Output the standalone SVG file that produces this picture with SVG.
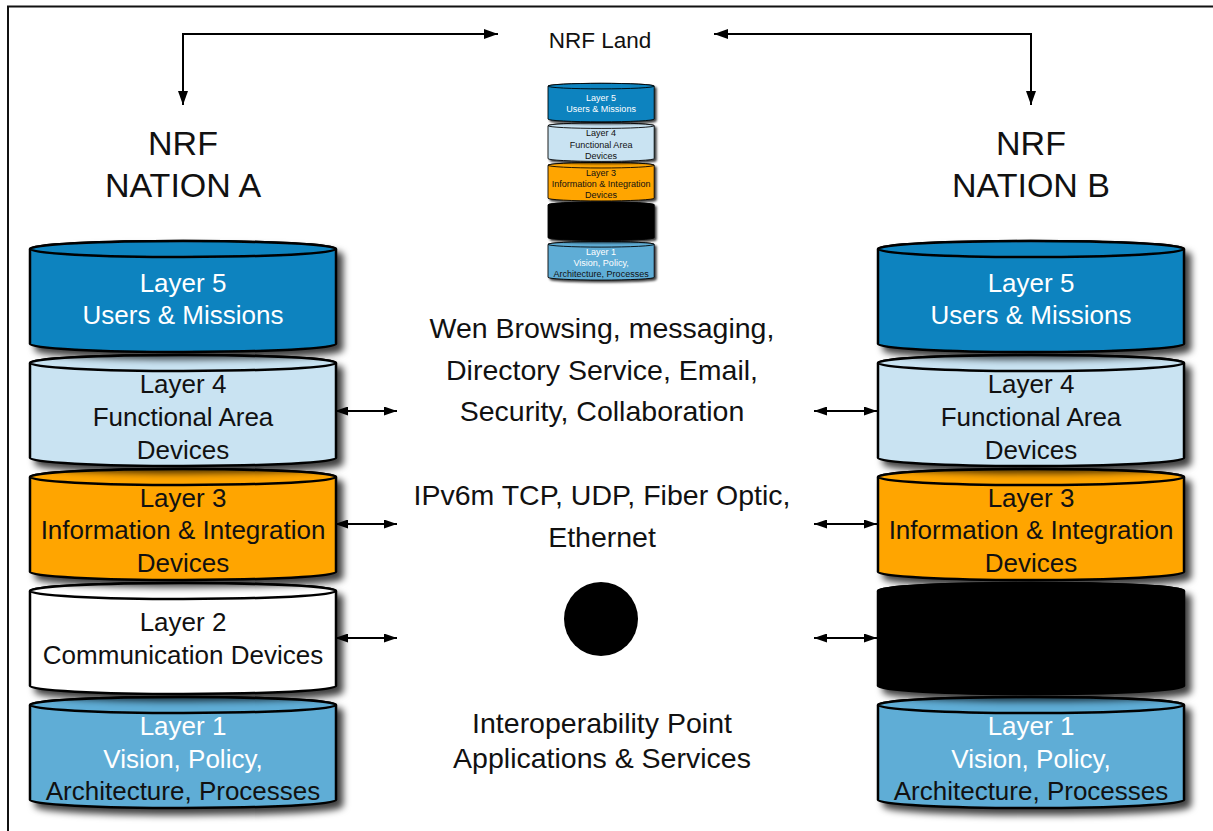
<svg xmlns="http://www.w3.org/2000/svg" width="1213" height="831" viewBox="0 0 1213 831">
  <style>
    text { font-family: "Liberation Sans", Arial, sans-serif; text-anchor: middle; }
    .lt { font-size: 26px; }
    .mid { font-size: 28.5px; fill: #111; }
    .hdr { font-size: 34px; fill: #111; }
    .wht { fill: #ffffff; }
    .blk { fill: #111111; }
    .cyl { stroke: #000; stroke-width: 2.5; }
    .l5 { fill: #0b83bf; }
    .l4 { fill: #c9e3f2; }
    .l3 { fill: #ffa500; }
    .l2 { fill: #ffffff; }
    .l2x { fill: #000000; }
    .l1 { fill: #5eadd6; }
    .conn { fill: none; stroke: #000; stroke-width: 2; }
  </style>
  <defs>
    <filter id="shadow" x="-10%" y="-20%" width="130%" height="160%">
      <feDropShadow dx="6" dy="6" stdDeviation="3.5" flood-color="#000" flood-opacity="0.75"/>
    </filter>
    <marker id="head" viewBox="0 0 14 10" refX="14" refY="5" markerWidth="14" markerHeight="10" markerUnits="userSpaceOnUse" orient="auto-start-reverse">
      <path d="M0,0 L14,5 L0,10 Z" fill="#000"/>
    </marker>
    <marker id="headS" viewBox="0 0 13 9" refX="13" refY="4.5" markerWidth="13" markerHeight="9" markerUnits="userSpaceOnUse" orient="auto-start-reverse">
      <path d="M0,0 L13,4.5 L0,9 Z" fill="#000"/>
    </marker>
    <!-- cylinder body 306 wide, 111 tall, local origin at top-left -->
    <path id="cylBody" d="M0,8 L0,103 A153,8 0 0 0 306,103 L306,8 A153,8 0 0 0 0,8 Z"/>
    <ellipse id="cylTop" cx="153" cy="8" rx="153" ry="8"/>
  </defs>

  <!-- frame -->
  <path d="M8,831 L8,6.5 L1213,6.5" fill="none" stroke="#111" stroke-width="2"/>

  <!-- NATION A stack -->
  <g id="nationA">
    <text class="hdr" x="183" y="155">NRF</text>
    <text class="hdr" x="183" y="197">NATION A</text>
    <g id="a-layer1" transform="translate(30,697)">
      <g filter="url(#shadow)"><use href="#cylBody" class="cyl l1"/><use href="#cylTop" class="cyl l1"/></g>
      <text class="lt wht" x="153" y="38">Layer 1</text>
      <text class="lt wht" x="153" y="71">Vision, Policy,</text>
      <text class="lt blk" x="153" y="103">Architecture, Processes</text>
    </g>
    <g id="a-layer2" transform="translate(30,583)">
      <g filter="url(#shadow)"><use href="#cylBody" class="cyl l2"/><use href="#cylTop" class="cyl l2"/></g>
      <text class="lt blk" x="153" y="48">Layer 2</text>
      <text class="lt blk" x="153" y="81">Communication Devices</text>
    </g>
    <g id="a-layer3" transform="translate(30,469)">
      <g filter="url(#shadow)"><use href="#cylBody" class="cyl l3"/><use href="#cylTop" class="cyl l3"/></g>
      <text class="lt blk" x="153" y="38">Layer 3</text>
      <text class="lt blk" x="153" y="70">Information &amp; Integration</text>
      <text class="lt blk" x="153" y="103">Devices</text>
    </g>
    <g id="a-layer4" transform="translate(30,355)">
      <g filter="url(#shadow)"><use href="#cylBody" class="cyl l4"/><use href="#cylTop" class="cyl l4"/></g>
      <text class="lt blk" x="153" y="38">Layer 4</text>
      <text class="lt blk" x="153" y="71">Functional Area</text>
      <text class="lt blk" x="153" y="104">Devices</text>
    </g>
    <g id="a-layer5" transform="translate(30,241)">
      <g filter="url(#shadow)"><use href="#cylBody" class="cyl l5"/><use href="#cylTop" class="cyl l5"/></g>
      <text class="lt wht" x="153" y="51">Layer 5</text>
      <text class="lt wht" x="153" y="83">Users &amp; Missions</text>
    </g>
  </g>

  <!-- NATION B stack -->
  <g id="nationB">
    <text class="hdr" x="1031" y="155">NRF</text>
    <text class="hdr" x="1031" y="197">NATION B</text>
    <g id="b-layer1" transform="translate(878,697)">
      <g filter="url(#shadow)"><use href="#cylBody" class="cyl l1"/><use href="#cylTop" class="cyl l1"/></g>
      <text class="lt wht" x="153" y="38">Layer 1</text>
      <text class="lt wht" x="153" y="71">Vision, Policy,</text>
      <text class="lt blk" x="153" y="103">Architecture, Processes</text>
    </g>
    <g id="b-layer2" transform="translate(878,583)">
      <g filter="url(#shadow)"><use href="#cylBody" class="cyl l2x"/><use href="#cylTop" class="cyl l2x"/></g>
    </g>
    <g id="b-layer3" transform="translate(878,469)">
      <g filter="url(#shadow)"><use href="#cylBody" class="cyl l3"/><use href="#cylTop" class="cyl l3"/></g>
      <text class="lt blk" x="153" y="38">Layer 3</text>
      <text class="lt blk" x="153" y="70">Information &amp; Integration</text>
      <text class="lt blk" x="153" y="103">Devices</text>
    </g>
    <g id="b-layer4" transform="translate(878,355)">
      <g filter="url(#shadow)"><use href="#cylBody" class="cyl l4"/><use href="#cylTop" class="cyl l4"/></g>
      <text class="lt blk" x="153" y="38">Layer 4</text>
      <text class="lt blk" x="153" y="71">Functional Area</text>
      <text class="lt blk" x="153" y="104">Devices</text>
    </g>
    <g id="b-layer5" transform="translate(878,241)">
      <g filter="url(#shadow)"><use href="#cylBody" class="cyl l5"/><use href="#cylTop" class="cyl l5"/></g>
      <text class="lt wht" x="153" y="51">Layer 5</text>
      <text class="lt wht" x="153" y="83">Users &amp; Missions</text>
    </g>
  </g>

  <!-- NRF Land: miniature stack -->
  <g id="nrfLand">
    <text x="600" y="48" style="font-size:22.5px" class="blk">NRF Land</text>
    <g transform="translate(537.6,-0.3) scale(0.347)">
      <g id="m-layer1" transform="translate(30,697)">
        <g filter="url(#shadow)"><use href="#cylBody" class="cyl l1"/><use href="#cylTop" class="cyl l1"/></g>
        <text class="lt wht" x="153" y="38">Layer 1</text>
        <text class="lt wht" x="153" y="71">Vision, Policy,</text>
        <text class="lt blk" x="153" y="103">Architecture, Processes</text>
      </g>
      <g id="m-layer2" transform="translate(30,583)">
        <g filter="url(#shadow)"><use href="#cylBody" class="cyl l2x"/><use href="#cylTop" class="cyl l2x"/></g>
      </g>
      <g id="m-layer3" transform="translate(30,469)">
        <g filter="url(#shadow)"><use href="#cylBody" class="cyl l3"/><use href="#cylTop" class="cyl l3"/></g>
        <text class="lt blk" x="153" y="38">Layer 3</text>
        <text class="lt blk" x="153" y="70">Information &amp; Integration</text>
        <text class="lt blk" x="153" y="103">Devices</text>
      </g>
      <g id="m-layer4" transform="translate(30,355)">
        <g filter="url(#shadow)"><use href="#cylBody" class="cyl l4"/><use href="#cylTop" class="cyl l4"/></g>
        <text class="lt blk" x="153" y="38">Layer 4</text>
        <text class="lt blk" x="153" y="71">Functional Area</text>
        <text class="lt blk" x="153" y="104">Devices</text>
      </g>
      <g id="m-layer5" transform="translate(30,241)">
        <g filter="url(#shadow)"><use href="#cylBody" class="cyl l5"/><use href="#cylTop" class="cyl l5"/></g>
        <text class="lt wht" x="153" y="51">Layer 5</text>
        <text class="lt wht" x="153" y="83">Users &amp; Missions</text>
      </g>
    </g>
  </g>

  <!-- interface descriptions -->
  <g id="services">
    <text class="mid" x="602" y="338">Wen Browsing, messaging,</text>
    <text class="mid" x="602" y="380">Directory Service, Email,</text>
    <text class="mid" x="602" y="421">Security, Collaboration</text>
  </g>
  <g id="protocols">
    <text class="mid" x="602" y="505">IPv6m TCP, UDP, Fiber Optic,</text>
    <text class="mid" x="602" y="547">Ethernet</text>
  </g>
  <g id="commPoint">
    <circle cx="601" cy="619" r="37" fill="#000"/>
  </g>
  <g id="interop">
    <text class="mid" x="602" y="733">Interoperability Point</text>
    <text class="mid" x="602" y="768">Applications &amp; Services</text>
  </g>

  <!-- connectors -->
  <g id="connectors">
    <path class="conn" d="M498,34 L183,34 L183,105" marker-start="url(#head)" marker-end="url(#head)"/>
    <path class="conn" d="M714,34 L1031,34 L1031,105" marker-start="url(#head)" marker-end="url(#head)"/>
    <line class="conn" x1="335" y1="411" x2="397" y2="411" marker-start="url(#headS)" marker-end="url(#headS)"/>
    <line class="conn" x1="335" y1="524" x2="397" y2="524" marker-start="url(#headS)" marker-end="url(#headS)"/>
    <line class="conn" x1="335" y1="638" x2="397" y2="638" marker-start="url(#headS)" marker-end="url(#headS)"/>
    <line class="conn" x1="814" y1="411" x2="877" y2="411" marker-start="url(#headS)" marker-end="url(#headS)"/>
    <line class="conn" x1="814" y1="524" x2="877" y2="524" marker-start="url(#headS)" marker-end="url(#headS)"/>
    <line class="conn" x1="814" y1="638" x2="877" y2="638" marker-start="url(#headS)" marker-end="url(#headS)"/>
  </g>
</svg>
